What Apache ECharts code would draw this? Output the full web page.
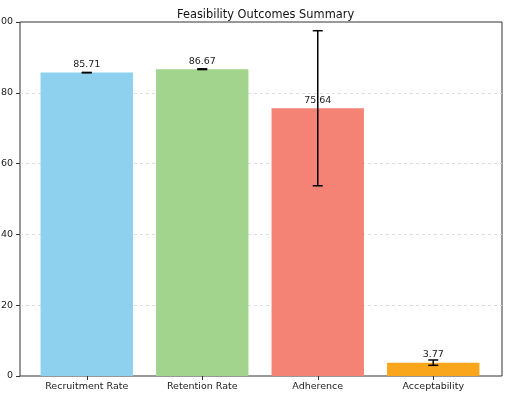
<!DOCTYPE html>
<html>
<head>
<meta charset="utf-8">
<script src="https://cdn.jsdelivr.net/npm/echarts@6/dist/echarts.min.js"></script>
<style>
  html, body { margin: 0; padding: 0; background: #fff; }
  #main { width: 509px; height: 397px; }
</style>
</head>
<body>
<div id="main"></div>
<script>
// data
var categories = ['Recruitment Rate', 'Retention Rate', 'Adherence', 'Acceptability'];
var values = [85.71, 86.67, 75.64, 3.77];
var errors = [0.05, 0.1, 21.9, 0.75];
var colors = ['#8ed1ee', '#a2d48d', '#f48376', '#f9a61c'];
var yTicks = [0, 20, 40, 60, 80, 100];

function initChart() {
    var chart = echarts.init(document.getElementById('main'));
    var font = 'DejaVu Sans';

    var errData = values.map(function (v, i) {
        return [i, v - errors[i], v + errors[i]];
    });

    var option = {
        animation: false,
        title: {
            text: 'Feasibility Outcomes Summary',
            left: 172, top: 5,
            textStyle: { fontFamily: font, fontSize: 11.4, fontWeight: 'normal', color: '#111' }
        },
        grid: [
            // frame + y axis
            { left: 20, right: 7, top: 22, bottom: 21, containLabel: false, outerBoundsMode: 'none',
              show: true, borderColor: '#333', borderWidth: 1, backgroundColor: 'transparent' },
            // bars (matplotlib style margins)
            { left: 29, right: 18, top: 22, bottom: 21, containLabel: false, outerBoundsMode: 'none' }
        ],
        xAxis: [
            { gridIndex: 0, type: 'value', show: false, min: 0, max: 1 },
            {
                gridIndex: 1, type: 'category', data: categories,
                axisLine: { show: false },
                axisTick: { show: true, alignWithLabel: true, length: 4, lineStyle: { color: '#333' } },
                axisLabel: { fontFamily: font, fontSize: 9.5, color: '#222', margin: 6 },
                splitLine: { show: false }
            }
        ],
        yAxis: [
            {
                gridIndex: 0, type: 'value', min: yTicks[0], max: yTicks[yTicks.length - 1], interval: 20,
                axisLine: { show: false },
                axisTick: { show: true, length: 4, lineStyle: { color: '#333' } },
                axisLabel: { fontFamily: font, fontSize: 9.5, color: '#222', margin: 7 },
                splitLine: { show: true, showMinLine: false, showMaxLine: false,
                             lineStyle: { color: '#d6d6d6', type: [3, 3], width: 0.8 } }
            },
            { gridIndex: 1, type: 'value', min: 0, max: 100, show: false }
        ],
        series: [
            {
                type: 'bar', xAxisIndex: 1, yAxisIndex: 1,
                barCategoryGap: '20%',
                data: values.map(function (v, i) {
                    return { value: v, itemStyle: { color: colors[i] } };
                }),
                label: {
                    show: true, position: 'top', distance: 3,
                    fontFamily: font, fontSize: 9.5, color: '#222',
                    formatter: function (p) { return p.value.toFixed(2); }
                },
                z: 2
            },
            {
                type: 'custom', xAxisIndex: 1, yAxisIndex: 1,
                data: errData,
                z: 3,
                renderItem: function (params, api) {
                    var x = api.value(0);
                    var lo = api.coord([x, api.value(1)]);
                    var hi = api.coord([x, api.value(2)]);
                    var cap = 5;
                    var style = { stroke: '#000', lineWidth: 1.5 };
                    return {
                        type: 'group',
                        children: [
                            { type: 'line', shape: { x1: lo[0], y1: lo[1], x2: hi[0], y2: hi[1] }, style: style },
                            { type: 'line', shape: { x1: lo[0] - cap, y1: lo[1], x2: lo[0] + cap, y2: lo[1] }, style: style },
                            { type: 'line', shape: { x1: hi[0] - cap, y1: hi[1], x2: hi[0] + cap, y2: hi[1] }, style: style }
                        ]
                    };
                }
            }
        ]
    };
    chart.setOption(option);
}
initChart();
</script>
</body>
</html>
